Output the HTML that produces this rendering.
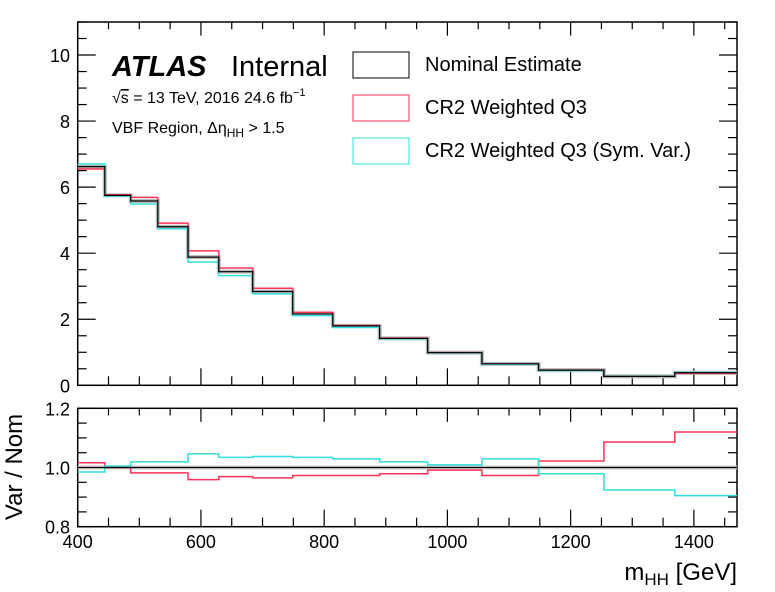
<!DOCTYPE html>
<html><head><meta charset="utf-8">
<style>
html,body{margin:0;padding:0;background:#fff;}
svg{display:block;font-family:"Liberation Sans",Arial,sans-serif;}
</style></head>
<body>
<svg id="chart" width="775" height="592" viewBox="0 0 775 592" xmlns="http://www.w3.org/2000/svg">
  <g id="topPanel"></g>
  <g id="botPanel"></g>
  <g>
    <text x="112" y="76" font-size="29" font-weight="bold" font-style="italic">ATLAS</text>
    <text x="231" y="76" font-size="29">Internal</text>
  </g>
  <text x="112" y="103" font-size="16">√<tspan text-decoration="overline">s</tspan> = 13 TeV, 2016 24.6 fb<tspan dy="-7" font-size="11">−1</tspan></text>
  <text x="112" y="133" font-size="16">VBF Region, Δη<tspan dy="4" font-size="12">HH</tspan><tspan dy="-4"> &gt; 1.5</tspan></text>
  <g>
    <g><rect x="353" y="52" width="56" height="26" fill="none" stroke="#000" stroke-width="1"/><text x="425" y="71" font-size="20">Nominal Estimate</text></g>
    <g><rect x="353" y="95" width="56" height="26" fill="none" stroke="#ff3355" stroke-width="1"/><text x="425" y="114" font-size="20">CR2 Weighted Q3</text></g>
    <g><rect x="353" y="138" width="56" height="26" fill="none" stroke="#33dddd" stroke-width="1"/><text x="425" y="157" font-size="20">CR2 Weighted Q3 (Sym. Var.)</text></g>
  </g>
  <text transform="translate(22,467) rotate(-90)" text-anchor="middle" font-size="24">Var / Nom</text>
  <text x="737" y="580" text-anchor="end" font-size="24">m<tspan dy="5" font-size="17">HH</tspan><tspan dy="-5"> [GeV]</tspan></text>
</svg>
<script>
const binEdges = [400,444,486,530,579,629,684,749,814,890,968,1056,1148,1254,1369,1470];
const nominal = [6.62,5.75,5.58,4.80,3.88,3.44,2.84,2.16,1.80,1.42,0.99,0.65,0.46,0.27,0.38];
const topQ3 = [6.55,5.77,5.69,4.91,4.07,3.55,2.94,2.21,1.81,1.43,0.99,0.65,0.46,0.27,0.36];
const topSym = [6.70,5.73,5.49,4.74,3.73,3.32,2.77,2.11,1.75,1.41,0.98,0.64,0.45,0.27,0.39];
const ratioQ3 = [1.016,1.0,0.982,0.982,0.959,0.969,0.965,0.973,0.973,0.979,0.991,0.973,1.022,1.086,1.12];
const ratioSym = [0.985,1.005,1.019,1.019,1.046,1.034,1.037,1.034,1.029,1.019,1.009,1.029,0.979,0.924,0.905];
const yTicksTop = [0,2,4,6,8,10];
const yTicksRatio = [0.8,1.0,1.2];
const xTicks = [400,600,800,1000,1200,1400];

const NS="http://www.w3.org/2000/svg";
const L=77.7,R=737,Tt=22,Tb=385.3,Bt=408.3,Bb=526.7;
const xs=v=>L+(v-400)/(1470-400)*(R-L);
const yt=v=>Tb-(v/11)*(Tb-Tt);
const yb=v=>Bb-(v-0.8)/0.4*(Bb-Bt);
function el(p,tag,attrs){const e=document.createElementNS(NS,tag);for(const k in attrs)e.setAttribute(k,attrs[k]);p.appendChild(e);return e;}
function stepPath(vals,ys){let d="";vals.forEach((v,i)=>{const x0=xs(binEdges[i]),x1=xs(binEdges[i+1]),y=ys(v);d+=(i===0?"M":"L")+x0+","+y+"L"+x1+","+y;});return d;}

const gTop=document.getElementById('topPanel'),gBot=document.getElementById('botPanel');
function frame(g,yT,yB,yMaj,yMin,ys,labelsY,fmt,prefix){
  const f=el(g,'rect',{x:L,y:yT,width:R-L,height:yB-yT,fill:'none',stroke:'#000','stroke-width':1.5});
  
  
  for(let v=400;v<=1470;v+=50){const x=xs(v);const maj=v%200===0;const len=maj?17:9;
    el(g,'line',{x1:x,y1:yB,x2:x,y2:yB-len,stroke:'#000','stroke-width':1.2});
    el(g,'line',{x1:x,y1:yT,x2:x,y2:yT+len*0.8,stroke:'#000','stroke-width':1.2});}
  yMin.forEach(v=>{const y=ys(v);const maj=yMaj.some(m=>Math.abs(m-v)<1e-6);const len=maj?18:9;
    el(g,'line',{x1:L,y1:y,x2:L+len,y2:y,stroke:'#000','stroke-width':1.2});
    el(g,'line',{x1:R,y1:y,x2:R-len,y2:y,stroke:'#000','stroke-width':1.2});});
  labelsY.forEach(v=>{const t=el(g,'text',{x:70,y:ys(v)+7,'text-anchor':'end','font-size':18});t.textContent=fmt(v);
    
    });
}
const topMin=[];for(let v=0;v<=11.001;v+=0.5)topMin.push(+v.toFixed(1));
frame(gTop,Tt,Tb,yTicksTop,topMin,yt,yTicksTop,v=>String(v),'main');
const botMin=[];for(let v=0.8;v<=1.2001;v+=0.05)botMin.push(+v.toFixed(2));
frame(gBot,Bt,Bb,yTicksRatio,botMin,yb,yTicksRatio,v=>v.toFixed(1),'ratio');
xTicks.forEach(v=>{const t=el(gBot,'text',{x:xs(v),y:548,'text-anchor':'middle','font-size':18});t.textContent=v;
  
  });

let p;
p=el(gTop,'path',{d:stepPath(nominal,yt),fill:'none',stroke:'#bbb','stroke-width':4});


p=el(gTop,'path',{d:stepPath(topQ3,yt),fill:'none',stroke:'#ff3355','stroke-width':1.5});


p=el(gTop,'path',{d:stepPath(topSym,yt),fill:'none',stroke:'#33dddd','stroke-width':1.5});


p=el(gTop,'path',{d:stepPath(nominal,yt),fill:'none',stroke:'#000','stroke-width':1.2});



p=el(gBot,'line',{x1:L,y1:yb(1),x2:R,y2:yb(1),stroke:'#ccc','stroke-width':4});


p=el(gBot,'path',{d:stepPath(ratioQ3,yb),fill:'none',stroke:'#ff3355','stroke-width':1.5});


p=el(gBot,'path',{d:stepPath(ratioSym,yb),fill:'none',stroke:'#33dddd','stroke-width':1.5});


p=el(gBot,'line',{x1:L,y1:yb(1),x2:R,y2:yb(1),stroke:'#000','stroke-width':1.3});


</script>
</body></html>
